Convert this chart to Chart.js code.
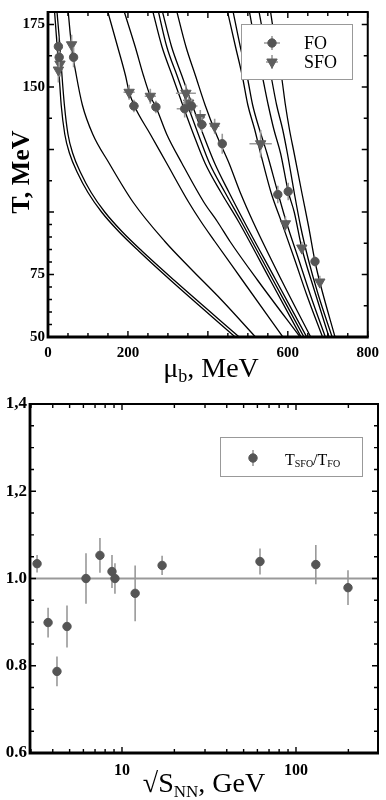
<!DOCTYPE html>
<html>
<head>
<meta charset="utf-8">
<script src="https://cdn.jsdelivr.net/npm/chart.js@4.4.1/dist/chart.umd.min.js"></script>
<style>
  html, body { margin: 0; padding: 0; background: #fff; }
  canvas { display: block; }
</style>
</head>
<body>
<canvas id="freezeout" width="386" height="390"></canvas>
<canvas id="ratio" width="386" height="410"></canvas>
<script>
const SERIF = '"Liberation Serif", "DejaVu Serif", serif';

// ---- top panel: T vs mu_b ----
const muLabels = [0, 200, 600, 800];
const tLabels = [50, 75, 150, 175];
const muTicks = [0, 50, 100, 150, 200, 250, 300, 350, 400, 450, 500, 550, 600, 650, 700, 750, 800];
const muMajor = [0, 200, 400, 600, 800];
const tTicksLeft = [50, 55, 60, 65, 70, 75, 80, 85, 90, 95, 100, 112.5, 125, 137.5, 150, 162.5, 175];
const tTicksRight = [62.5, 75, 87.5, 100, 112.5, 125, 137.5, 150, 162.5, 175];
const tMajor = [50, 75, 100, 125, 150, 175];

// chemical freeze-out (FO)
const foMu = [26, 28, 64, 215, 270, 342, 359, 385, 436, 575, 601, 668];
const foT = [166.2, 161.9, 161.9, 142.4, 142.0, 141.3, 142.4, 135.0, 127.3, 107.0, 108.2, 80.2];
const foMuErr = [8, 8, 8, 12, 10, 20, 15, 12, 10, 8, 8, 8];
const foTErr = [4, 4, 4, 2.5, 2.5, 3.5, 3, 3, 4, 3.5, 3.5, 2];

// strangeness freeze-out (SFO)
const sfoMu = [30, 26, 59, 203, 256, 345, 352, 381, 417, 532, 594, 635, 680];
const sfoT = [159.2, 156.8, 166.9, 147.9, 146.3, 147.5, 143.6, 137.8, 134.3, 127.3, 95.3, 85.6, 72.0];
const sfoMuErr = [6, 6, 6, 14, 14, 25, 15, 12, 12, 28, 8, 8, 8];
const sfoTErr = [5, 5, 4, 3, 3, 3.5, 3, 3, 3, 5.5, 3, 2.5, 2.5];

// trajectories, [mu_b, T] pairs
const trajA1 = [[16,181],[23,166],[28,154.5],[33,142.8],[42,131.1],[54,123.4],[74,115.6],[100,107.8],[134,100],[177,92.2],[227,84.4],[306,72.8],[472,49.5]];
const trajA2 = [[22,181],[30,166],[35,154.5],[41,142.8],[50,131.1],[62,123.4],[82,115.6],[108,107.8],[142,100],[185,92.2],[235,84.4],[315,72.8],[482,49.5]];
const trajB = [[50,181],[59,166.2],[71,154.5],[86,142.8],[112,131.1],[153,119.5],[213,103.9],[292,88.3],[356,77.5],[433,65],[522,49.5]];
const trajC = [[148,181],[174,166.2],[194,154.5],[203,148],[215,142.8],[256,131.1],[297,119.5],[352,103.9],[383,96.1],[417,88.3],[486,72.8],[590,49.5]];
const trajD = [[189,181],[218,166.2],[239,154.5],[256,146.3],[270,142],[297,131.1],[335,119.5],[390,103.9],[424,96.1],[455,88.3],[524,72.8],[633,49.5]];
const trajM1 = [[261,181],[285,166.2],[311,154.5],[337,142.8],[364,131.1],[393,119.5],[433,107.8],[477,96.1],[556,72.8],[635,49.5]];
const trajM2 = [[275,181],[297,166.2],[323,154.5],[349,142.8],[376,131.1],[404,119.5],[443,107.8],[484,96.1],[563,72.8],[642,49.5]];
const trajM3 = [[285,181],[309,166.2],[335,154.5],[361,142.8],[388,131.1],[417,119.5],[453,107.8],[491,96.1],[570,72.8],[649,49.5]];
const trajM4 = [[321,181],[345,166.2],[369,154.5],[393,142.8],[421,131.1],[453,119.5],[481,107.8],[513,96.1],[584,72.8],[659,49.5]];
const trajR1 = [[448,181],[469,166.2],[486,154.5],[500,142.8],[517,133.1],[532,123.4],[558,107.8],[584,96.1],[618,80.6],[647,67],[688,49.5]];
const trajR2 = [[462,181],[481,166.2],[498,154.5],[512,142.8],[529,133.1],[548,123.4],[575,107.8],[596,96.1],[628,80.6],[656,67],[695,49.5]];
const trajR3 = [[503,181],[520,166.2],[536,154.5],[551,142.8],[565,133.1],[582,123.4],[601,108.2],[616,100],[635,85.6],[666,68.9],[704,49.5]];
const trajR4 = [[527,181],[544,166.2],[558,154.5],[572,142.8],[587,133.1],[599,123.4],[616,107.8],[632,94.2],[652,80.6],[676,67],[712,49.5]];
const trajR5 = [[556,181],[570,166.2],[584,154.5],[594,142.8],[604,133.1],[616,123.4],[635,107.8],[652,94.2],[668,80.2],[680,72],[719,49.5]];
const trajectories = [trajA1, trajA2, trajB, trajC, trajD, trajM1, trajM2, trajM3, trajM4, trajR1, trajR2, trajR3, trajR4, trajR5];

// ---- bottom panel: T_SFO/T_FO vs sqrt(s_NN) ----
const sqrtS = [3.25, 3.76, 4.23, 4.83, 6.21, 7.47, 8.76, 9.11, 11.9, 17.0, 62.1, 130, 199];
const ratio = [1.034, 0.899, 0.787, 0.890, 1.000, 1.053, 1.016, 1.000, 0.966, 1.030, 1.039, 1.032, 0.979];
const ratioErr = [0.02, 0.034, 0.034, 0.048, 0.058, 0.04, 0.038, 0.035, 0.064, 0.022, 0.03, 0.045, 0.04];
const sRange = [2.96, 296];
const sLabels = [10, 100];
const sTicks = [3, 4, 5, 6, 7, 8, 9, 10, 20, 30, 40, 50, 60, 70, 80, 90, 100, 200];
const rLabels = [0.6, 0.8, 1.0, 1.2, 1.4];
const rLabelText = ["0.6", "0.8", "1.0", "1,2", "1,4"];
const rTicks = [0.6, 0.65, 0.7, 0.75, 0.8, 0.85, 0.9, 0.95, 1.0, 1.05, 1.1, 1.15, 1.2, 1.25, 1.3, 1.35, 1.4];

// inward ticks on all four sides + box
const frame = {
  id: "frame",
  afterDatasetsDraw(chart, args, o) {
    const { ctx, chartArea: a } = chart;
    const sx = chart.scales.x, sy = chart.scales.y;
    ctx.save();
    ctx.strokeStyle = "#000";
    ctx.lineWidth = 1.4;
    ctx.beginPath();
    for (const v of o.xTicks) {
      const p = sx.getPixelForValue(v);
      const len = o.xMajor.includes(v) ? 6 : 4;
      ctx.moveTo(p, a.bottom); ctx.lineTo(p, a.bottom - len);
      ctx.moveTo(p, a.top); ctx.lineTo(p, a.top + len);
    }
    for (const v of o.yLeft) {
      const p = sy.getPixelForValue(v);
      const len = o.yMajor.includes(v) ? 6 : 4;
      ctx.moveTo(a.left, p); ctx.lineTo(a.left + len, p);
    }
    for (const v of o.yRight) {
      const p = sy.getPixelForValue(v);
      const len = o.yMajor.includes(v) ? 6 : 4;
      ctx.moveTo(a.right, p); ctx.lineTo(a.right - len, p);
    }
    ctx.stroke();
    ctx.lineWidth = 2;
    ctx.beginPath();
    ctx.moveTo(a.left, a.top); ctx.lineTo(a.right, a.top); ctx.lineTo(a.right, a.bottom);
    ctx.stroke();
    ctx.lineWidth = 2.8;
    ctx.beginPath();
    ctx.moveTo(a.left, a.top - 1); ctx.lineTo(a.left, a.bottom); ctx.lineTo(a.right + 1, a.bottom);
    ctx.stroke();
    ctx.restore();
  }
};

const errorBars = {
  id: "errorBars",
  beforeDatasetDraw(chart, args) {
    const ds = chart.data.datasets[args.index];
    if (!ds.errY) return;
    const { ctx } = chart;
    const sx = chart.scales.x, sy = chart.scales.y;
    ctx.save();
    ctx.strokeStyle = "#999";
    ctx.lineWidth = 1.6;
    ctx.beginPath();
    ds.data.forEach((p, i) => {
      const ex = ds.errX ? ds.errX[i] : 0;
      const ey = ds.errY[i];
      const px = sx.getPixelForValue(p.x), py = sy.getPixelForValue(p.y);
      if (ex) {
        ctx.moveTo(sx.getPixelForValue(p.x - ex), py);
        ctx.lineTo(sx.getPixelForValue(p.x + ex), py);
      }
      ctx.moveTo(px, sy.getPixelForValue(p.y - ey));
      ctx.lineTo(px, sy.getPixelForValue(p.y + ey));
    });
    ctx.stroke();
    ctx.restore();
  }
};

function drawPieces(ctx, pieces, x, y, align) {
  let w = 0;
  for (const p of pieces) {
    ctx.font = `${p.bold ? "bold " : ""}${p.size}px ${SERIF}`;
    w += ctx.measureText(p.t).width;
  }
  let cx = align === "center" ? x - w / 2 : x;
  for (const p of pieces) {
    ctx.font = `${p.bold ? "bold " : ""}${p.size}px ${SERIF}`;
    ctx.fillText(p.t, cx, y + (p.dy || 0));
    cx += ctx.measureText(p.t).width;
  }
}

// axis titles (with subscripts) and boxed legend
const decor = {
  id: "decor",
  afterDraw(chart, args, o) {
    const { ctx } = chart;
    ctx.save();
    ctx.fillStyle = "#000";
    ctx.textBaseline = "alphabetic";
    for (const t of o.titles) {
      ctx.save();
      ctx.translate(t.x, t.y);
      if (t.rotate) { ctx.rotate(-Math.PI / 2); ctx.textBaseline = "middle"; }
      drawPieces(ctx, t.pieces, 0, 0, "center");
      ctx.restore();
    }
    const L = o.legend;
    ctx.fillStyle = "#fff";
    ctx.fillRect(L.box[0], L.box[1], L.box[2] - L.box[0], L.box[3] - L.box[1]);
    ctx.strokeStyle = "#999";
    ctx.lineWidth = 1;
    ctx.strokeRect(L.box[0] + 0.5, L.box[1] + 0.5, L.box[2] - L.box[0], L.box[3] - L.box[1]);
    for (const it of L.items) {
      const ds = chart.data.datasets[it.ds];
      ctx.strokeStyle = "#999";
      ctx.lineWidth = 1.6;
      ctx.beginPath();
      if (it.ex) { ctx.moveTo(it.mx - it.ex, it.my); ctx.lineTo(it.mx + it.ex, it.my); }
      ctx.moveTo(it.mx, it.my - it.ey); ctx.lineTo(it.mx, it.my + it.ey);
      ctx.stroke();
      ctx.fillStyle = ds.backgroundColor;
      ctx.strokeStyle = ds.borderColor;
      ctx.lineWidth = 1;
      Chart.helpers.drawPoint(ctx, { pointStyle: ds.pointStyle, rotation: ds.rotation || 0, radius: ds.pointRadius, borderWidth: 1 }, it.mx, it.my);
      ctx.fillStyle = "#000";
      drawPieces(ctx, it.pieces || [{ t: ds.label, size: 18 }], it.tx, it.ty, "left");
    }
    ctx.restore();
  }
};

const tickFont = (size) => ({ family: SERIF, size, weight: "bold" });

const curveSets = trajectories.map((c) => ({
  label: "",
  data: c.map(([m, t]) => ({ x: m, y: t })),
  showLine: true,
  pointRadius: 0,
  borderColor: "#000",
  borderWidth: 1.3,
  cubicInterpolationMode: "monotone",
  clip: 0,
}));

new Chart(document.getElementById("freezeout"), {
  type: "scatter",
  data: {
    datasets: [
      {
        label: "FO",
        data: foMu.map((m, i) => ({ x: m, y: foT[i] })),
        errX: foMuErr, errY: foTErr,
        pointStyle: "circle", pointRadius: 4.2,
        backgroundColor: "#555", borderColor: "#555",
      },
      {
        label: "SFO",
        data: sfoMu.map((m, i) => ({ x: m, y: sfoT[i] })),
        errX: sfoMuErr, errY: sfoTErr,
        pointStyle: "triangle", rotation: 180, pointRadius: 6,
        backgroundColor: "#5e5e5e", borderColor: "#5e5e5e",
      },
      ...curveSets,
    ],
  },
  options: {
    responsive: false,
    animation: false,
    devicePixelRatio: 1,
    layout: { padding: { left: 0, right: 5, top: 4, bottom: 0 } },
    scales: {
      x: {
        type: "linear", min: 0, max: 800,
        grid: { display: false, drawTicks: false }, border: { display: false },
        afterFit: (s) => { s.height = 53; },
        afterBuildTicks: (s) => { s.ticks = muLabels.map((v) => ({ value: v })); },
        ticks: { font: tickFont(15), color: "#000", padding: 7, maxRotation: 0, autoSkip: false },
      },
      y: {
        type: "linear", min: 50, max: 180,
        grid: { display: false, drawTicks: false }, border: { display: false },
        afterFit: (s) => { s.width = 48; },
        afterBuildTicks: (s) => { s.ticks = tLabels.map((v) => ({ value: v })); },
        ticks: { font: tickFont(15), color: "#000", padding: 3, autoSkip: false },
      },
    },
    plugins: {
      legend: { display: false },
      tooltip: { enabled: false },
      frame: { xTicks: muTicks, xMajor: muMajor, yLeft: tTicksLeft, yRight: tTicksRight, yMajor: tMajor },
      decor: {
        titles: [
          { x: 211, y: 377, pieces: [{ t: "μ", size: 28 }, { t: "b", size: 18, dy: 5 }, { t: ", MeV", size: 28 }] },
          { x: 22, y: 172, rotate: true, pieces: [{ t: "T, MeV", size: 26, bold: true }] },
        ],
        legend: {
          box: [241, 24, 352, 79],
          items: [
            { ds: 0, mx: 272, my: 43, ex: 8, ey: 7, tx: 304, ty: 49 },
            { ds: 1, mx: 272, my: 62, ex: 6, ey: 7, tx: 304, ty: 68 },
          ],
        },
      },
    },
  },
  plugins: [errorBars, frame, decor],
});

new Chart(document.getElementById("ratio"), {
  type: "scatter",
  data: {
    datasets: [
      {
        label: "TSFO/TFO",
        data: sqrtS.map((s, i) => ({ x: s, y: ratio[i] })),
        errY: ratioErr,
        pointStyle: "circle", pointRadius: 4.2,
        backgroundColor: "#555", borderColor: "#555",
      },
      {
        label: "",
        data: sRange.map((s) => ({ x: s, y: 1 })),
        showLine: true, pointRadius: 0,
        borderColor: "#999", borderWidth: 2,
      },
    ],
  },
  options: {
    responsive: false,
    animation: false,
    devicePixelRatio: 1,
    layout: { padding: { left: 0, right: 8, top: 14, bottom: 0 } },
    scales: {
      x: {
        type: "logarithmic", min: sRange[0], max: sRange[1],
        grid: { display: false, drawTicks: false }, border: { display: false },
        afterFit: (s) => { s.height = 47; },
        afterBuildTicks: (s) => { s.ticks = sLabels.map((v) => ({ value: v })); },
        ticks: { font: tickFont(16), color: "#000", padding: 8, maxRotation: 0, autoSkip: false,
                 callback: (v) => String(v) },
      },
      y: {
        type: "linear", min: 0.6, max: 1.4,
        grid: { display: false, drawTicks: false }, border: { display: false },
        afterFit: (s) => { s.width = 30; },
        afterBuildTicks: (s) => { s.ticks = rLabels.map((v) => ({ value: v })); },
        ticks: { font: tickFont(17), color: "#000", padding: 3, autoSkip: false,
                 callback: (v) => rLabelText[rLabels.findIndex((r) => Math.abs(r - v) < 1e-6)] },
      },
    },
    plugins: {
      legend: { display: false },
      tooltip: { enabled: false },
      frame: { xTicks: sTicks, xMajor: sLabels, yLeft: rTicks, yRight: rTicks, yMajor: rLabels },
      decor: {
        titles: [
          { x: 204, y: 402, pieces: [{ t: "√S", size: 28 }, { t: "NN", size: 17, dy: 5 }, { t: ", GeV", size: 28 }] },
        ],
        legend: {
          box: [220, 47, 362, 86],
          items: [
            { ds: 0, mx: 253, my: 68, ex: 0, ey: 8, tx: 285, ty: 75,
              pieces: [{ t: "T", size: 16 }, { t: "SFO", size: 10, dy: 2 }, { t: "/T", size: 16 }, { t: "FO", size: 10, dy: 2 }] },
          ],
        },
      },
    },
  },
  plugins: [errorBars, frame, decor],
});
</script>
</body>
</html>
